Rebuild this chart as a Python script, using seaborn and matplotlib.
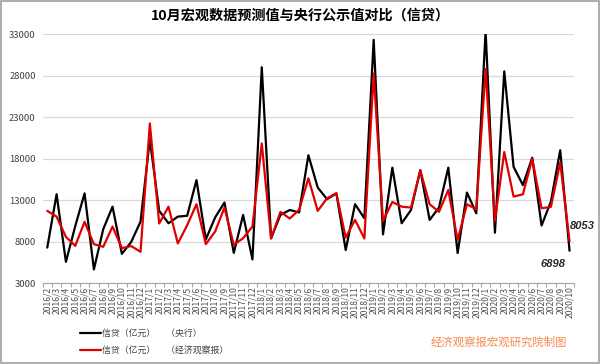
import numpy as np
import pandas as pd
import matplotlib
matplotlib.use('Agg')
import matplotlib.pyplot as plt
import seaborn as sns
from matplotlib.patches import Rectangle

# --- données (亿元) ---
months = ['2016/2', '2016/3', '2016/4', '2016/5', '2016/6', '2016/7', '2016/8', '2016/9', '2016/10', '2016/11', '2016/12',
          '2017/1', '2017/2', '2017/3', '2017/4', '2017/5', '2017/6', '2017/7', '2017/8', '2017/9', '2017/10', '2017/11', '2017/12',
          '2018/1', '2018/2', '2018/3', '2018/4', '2018/5', '2018/6', '2018/7', '2018/8', '2018/9', '2018/10', '2018/11', '2018/12',
          '2019/1', '2019/2', '2019/3', '2019/4', '2019/5', '2019/6', '2019/7', '2019/8', '2019/9', '2019/10', '2019/11', '2019/12',
          '2020/1', '2020/2', '2020/3', '2020/4', '2020/5', '2020/6', '2020/7', '2020/8', '2020/9', '2020/10']

pboc = [7266, 13700, 5556, 9855, 13800, 4636, 9487, 12200, 6513, 7946, 10400,
        20300, 11700, 10200, 11000, 11100, 15400, 8255, 10900, 12700, 6632, 11200, 5844,
        29000, 8393, 11200, 11800, 11500, 18400, 14500, 13100, 13800, 6970, 12500, 10800,
        32300, 8858, 16900, 10200, 11800, 16600, 10600, 12100, 16900, 6613, 13900, 11400,
        33400, 9057, 28500, 17000, 14800, 18100, 9927, 12800, 19000, 6898]

eeo = [11690, 11000, 8560, 7480, 10370, 7680, 7360, 9800, 7200, 7450, 6760,
       22230, 10170, 12200, 7760, 9960, 12490, 7680, 9200, 12090, 7600, 8400, 9800,
       19820, 8360, 11570, 10770, 11810, 15620, 11690, 13210, 13810, 8480, 10600, 8360,
       28230, 10490, 12770, 12200, 12090, 16570, 12490, 11570, 14210, 8200, 12490, 11890,
       28790, 10500, 18780, 13410, 13690, 17980, 12010, 12170, 17500, 8053]

label_pboc = '信贷（亿元）\u3000 （央行）'
label_eeo = '信贷（亿元）\u3000 （经济观察报）'
yticks = [3000, 8000, 13000, 18000, 23000, 28000, 33000]

sns.set_style('white')
plt.rcParams['font.family'] = ['Noto Sans CJK SC', 'DejaVu Sans']

idx = np.arange(len(months))
df = pd.concat([
    pd.DataFrame({'idx': idx, 'value': pboc, 'series': label_pboc}),
    pd.DataFrame({'idx': idx, 'value': eeo, 'series': label_eeo}),
])

fig = plt.figure(figsize=(6, 3.64), dpi=100)
ax = fig.add_axes([0.071, 0.2225, 0.886, 0.684])

sns.lineplot(data=df, x='idx', y='value', hue='series',
             hue_order=[label_pboc, label_eeo],
             palette={label_pboc: '#000000', label_eeo: '#E00000'},
             linewidth=1.6, ax=ax)

ax.set_xlim(-0.5, len(months) - 0.5)
ax.set_ylim(3000, 33000)
ax.set_yticks(yticks)
ax.set_yticklabels([str(v) for v in yticks], fontsize=6.8, color='#404040')
ax.set_xticks(idx)
ax.set_xticklabels(months, rotation=90, fontsize=6.2, color='#505050')
ax.set_xticks(np.arange(len(months) + 1) - 0.5, minor=True)
ax.tick_params(axis='x', which='major', length=0, pad=2.5)
ax.tick_params(axis='x', which='minor', length=3, color='#A6A6A6', width=0.8, direction='out', bottom=True)
ax.tick_params(axis='y', length=0, pad=5)
ax.grid(axis='y', color='#D9D9D9', linewidth=0.9)
ax.set_axisbelow(True)
for s in ['left', 'right', 'top']:
    ax.spines[s].set_visible(False)
ax.spines['bottom'].set_color('#A6A6A6')
ax.spines['bottom'].set_linewidth(0.8)
ax.set_xlabel('')
ax.set_ylabel('')

# étiquettes de fin
ax.annotate(f'{eeo[-1]}', xy=(idx[-1], eeo[-1]), xytext=(0, 15), textcoords='offset pixels',
            ha='left', va='center', fontsize=8, fontweight='bold', fontstyle='italic',
            family='Liberation Sans', color='#262626', annotation_clip=False)
ax.annotate(f'{pboc[-1]}', xy=(idx[-1], pboc[-1]), xytext=(-4, -13), textcoords='offset pixels',
            ha='right', va='center', fontsize=8, fontweight='bold', fontstyle='italic',
            family='Liberation Sans', color='#262626', annotation_clip=False)

# légende
handles, labels = ax.get_legend_handles_labels()
ax.get_legend().remove()
fig.legend(handles, labels, loc='upper left', bbox_to_anchor=(0.133, 0.097),
           frameon=False, fontsize=6.4, handlelength=2.4, handletextpad=0.1,
           labelspacing=1.0, labelcolor='#404040', borderaxespad=0, borderpad=0)

fig.text(0.5, 0.958, '10月宏观数据预测值与央行公示值对比（信贷）', ha='center', va='center',
         fontsize=10.2, fontweight='bold', color='#000000')
fig.text(0.832, 0.06, '经济观察报宏观研究院制图', ha='center', va='center',
         fontsize=8.2, color='#F5894B')

fig.patches.append(Rectangle((0.001, 0.002), 0.997, 0.995, transform=fig.transFigure,
                             fill=False, edgecolor='#A0A0A0', linewidth=1.2))

fig.savefig('out.png', dpi=100)
